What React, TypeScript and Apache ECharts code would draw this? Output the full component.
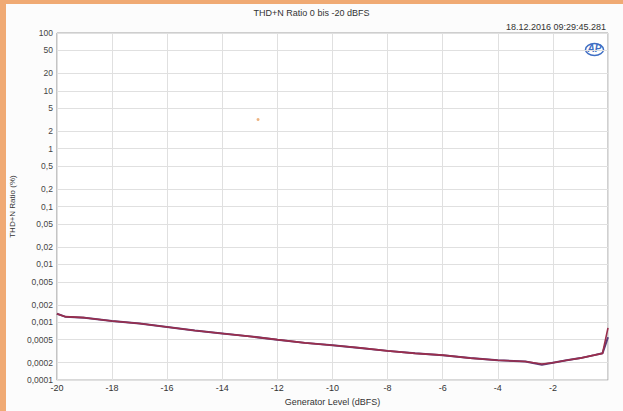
import React, { useEffect, useRef } from "react";
import * as echarts from "echarts";

const xLevels = [-20, -19.7, -19, -18, -17, -16, -15, -14, -13, -12, -11, -10, -9, -8, -7, -6, -5, -4, -3, -2.4, -2, -1.5, -1, -0.5, -0.2, 0];
const thdA = [0.0014, 0.00125, 0.0012, 0.00105, 0.00095, 0.00083, 0.00072, 0.00064, 0.00057, 0.0005, 0.00044, 0.0004, 0.00036, 0.00032, 0.00029, 0.00027, 0.00024, 0.00022, 0.00021, 0.00019, 0.0002, 0.00022, 0.00024, 0.00027, 0.00029, 0.0008];
const thdB = [0.0014, 0.00125, 0.0012, 0.00105, 0.00095, 0.00083, 0.00072, 0.00064, 0.00057, 0.0005, 0.00044, 0.0004, 0.00036, 0.00032, 0.00029, 0.00027, 0.00024, 0.00022, 0.00021, 0.000185, 0.0002, 0.00022, 0.00024, 0.00027, 0.00029, 0.00055];
const strayPoint = [[-12.7, 3.2]];
const yTicks = [100, 50, 20, 10, 5, 2, 1, 0.5, 0.2, 0.1, 0.05, 0.02, 0.01, 0.005, 0.002, 0.001, 0.0005, 0.0002, 0.0001];
const yTickLabels = ["100", "50", "20", "10", "5", "2", "1", "0,5", "0,2", "0,1", "0,05", "0,02", "0,01", "0,005", "0,002", "0,001", "0,0005", "0,0002", "0,0001"];
const xTickLabels = ["-20", "-18", "-16", "-14", "-12", "-10", "-8", "-6", "-4", "-2", ""];

const FONT = "Liberation Sans, Arial, sans-serif";

export default function App() {
  const ref = useRef<HTMLDivElement>(null);
  useEffect(() => {
    document.body.style.margin = "0";
    const chart = echarts.init(ref.current!, null, { renderer: "svg" });
    const logTicks = yTicks.map((v) => Math.log10(v));
    const labelFor = (val: number) => {
      for (let i = 0; i < yTicks.length; i++) {
        if (Math.abs(logTicks[i] - val) < 1e-6) return yTickLabels[i];
      }
      return "";
    };
    chart.setOption({
      animation: false,
      backgroundColor: "#FCFCFC",
      title: {
        text: "THD+N Ratio 0 bis -20 dBFS",
        left: "center",
        top: 3,
        textStyle: { fontSize: 9, fontWeight: "normal", color: "#333", fontFamily: FONT },
      },
      graphic: [
        { type: "rect", left: 0, top: 0, shape: { width: 6, height: 411 }, style: { fill: "#F0AA74" }, z: 100 },
        { type: "rect", left: 0, top: 0, shape: { width: 623, height: 4 }, style: { fill: "#F0AA74" }, z: 100 },
        {
          type: "text",
          right: 17,
          top: 22,
          style: { text: "18.12.2016 09:29:45.281", fontSize: 9, fill: "#333", fontFamily: FONT },
        },
        {
          type: "group",
          left: 583,
          top: 41,
          children: [
            { type: "ellipse", shape: { cx: 10, cy: 7, rx: 9, ry: 6 }, style: { fill: "none", stroke: "#3F6FC4", lineWidth: 1.5 } },
            { type: "text", x: 3, y: 1, style: { text: "AP", fontSize: 10, fontStyle: "italic", fontWeight: "bold", fill: "#3F6FC4", fontFamily: FONT } },
          ],
        },
      ],
      grid: { left: 49, right: 15, top: 33, bottom: 27, show: true, borderColor: "#A0A0A0", borderWidth: 1, backgroundColor: "#FFFFFF" },
      xAxis: {
        type: "value",
        min: -20,
        max: 0,
        interval: 2,
        name: "Generator Level (dBFS)",
        nameLocation: "middle",
        nameGap: 14,
        nameTextStyle: { fontSize: 9, color: "#333", fontFamily: FONT },
        axisLine: { show: false },
        axisTick: { show: false },
        axisLabel: {
          fontSize: 9,
          color: "#333",
          fontFamily: FONT,
          margin: 3,
          formatter: (v: number) => xTickLabels[Math.round((v + 20) / 2)] ?? "",
        },
        splitLine: { show: true, lineStyle: { color: "#E0E0E0", width: 1 } },
      },
      yAxis: {
        type: "value",
        min: -4,
        max: 2,
        name: "THD+N Ratio (%)",
        nameLocation: "middle",
        nameGap: 36,
        nameTextStyle: { fontSize: 8, color: "#333", fontFamily: FONT },
        axisLine: { show: false },
        axisTick: { show: false, customValues: logTicks },
        axisLabel: {
          fontSize: 8.5,
          color: "#444",
          fontFamily: FONT,
          margin: 4,
          customValues: logTicks,
          formatter: (v: number) => labelFor(v),
        },
        splitLine: { show: false },
      },
      series: [
        {
          type: "scatter",
          data: strayPoint.map(([x, y]) => [x, Math.log10(y)]),
          symbolSize: 3,
          itemStyle: { color: "#E8A060" },
          z: 1,
          markLine: {
            silent: true,
            symbol: "none",
            label: { show: false },
            lineStyle: { color: "#E0E0E0", width: 1, type: "solid" },
            data: logTicks.map((t) => ({ yAxis: t })),
            z: 1,
          },
        },
        {
          type: "line",
          data: xLevels.map((x, i) => [x, Math.log10(thdB[i])]),
          showSymbol: false,
          lineStyle: { color: "#5C3C78", width: 2 },
          z: 5,
        },
        {
          type: "line",
          data: xLevels.map((x, i) => [x, Math.log10(thdA[i])]),
          showSymbol: false,
          lineStyle: { color: "#9A2E4C", width: 1.6 },
          z: 6,
        },
      ],
    });
    return () => chart.dispose();
  }, []);
  return <div ref={ref} style={{ width: 623, height: 411 }} />;
}
